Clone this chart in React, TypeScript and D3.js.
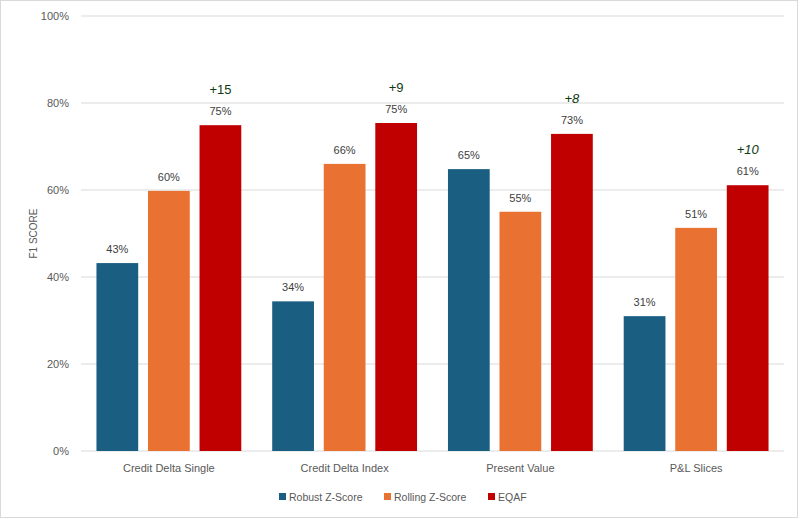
import React, { useRef, useEffect } from 'react';
import * as d3 from 'd3';

const categories = ['Credit Delta Single', 'Credit Delta Index', 'Present Value', 'P&L Slices'];
const seriesNames = ['Robust Z-Score', 'Rolling Z-Score', 'EQAF'];
const robust = [43.2, 34.4, 64.8, 31.0];
const rolling = [59.8, 66.0, 55.0, 51.3];
const eqaf = [74.9, 75.4, 72.9, 61.1];
const deltas = ['+15', '+9', '+8', '+10'];
const deltaItalic = [false, false, true, true];
const yTicks = [0, 20, 40, 60, 80, 100];

const colors = ['#1a5e82', '#e97132', '#c00000'];
const FONT = '"Liberation Sans", Arial, sans-serif';

const App: React.FC = () => {
    const ref = useRef<SVGSVGElement>(null);

    useEffect(() => {
        if (!ref.current) return;
        const svg = d3.select(ref.current);
        svg.selectAll('*').remove();

        const width = 800;
        const height = 519;
        const margin = { top: 16, right: 16, bottom: 68, left: 81 };

        svg.append('rect')
            .attr('x', 0.5).attr('y', 0.5)
            .attr('width', width - 3).attr('height', height - 2)
            .attr('fill', '#fff')
            .attr('stroke', '#d9d9d9');

        const x = d3.scaleBand<string>()
            .domain(categories)
            .range([margin.left, width - margin.right])
            .paddingInner(0)
            .paddingOuter(0);

        // grouped bars inside each category
        const xs = d3.scaleBand<string>()
            .domain(seriesNames)
            .range([0, x.bandwidth()])
            .paddingInner(0.19)
            .paddingOuter(0.3);

        const y = d3.scaleLinear()
            .domain([0, 100])
            .range([height - margin.bottom, margin.top]);

        // gridlines
        svg.append('g')
            .selectAll('line')
            .data(yTicks)
            .enter()
            .append('line')
            .attr('x1', margin.left)
            .attr('x2', width - margin.right)
            .attr('y1', d => y(d))
            .attr('y2', d => y(d))
            .attr('stroke', '#d9d9d9')
            .attr('stroke-width', 1);

        // y tick labels
        svg.append('g')
            .selectAll('text')
            .data(yTicks)
            .enter()
            .append('text')
            .attr('x', 69)
            .attr('y', d => y(d))
            .attr('dy', '0.35em')
            .attr('text-anchor', 'end')
            .attr('font-family', FONT)
            .attr('font-size', 11)
            .attr('fill', '#595959')
            .text(d => `${d}%`);

        // y axis title
        svg.append('text')
            .attr('transform', `translate(37,${(y(0) + y(100)) / 2}) rotate(-90)`)
            .attr('text-anchor', 'middle')
            .attr('font-family', FONT)
            .attr('font-size', 10)
            .attr('fill', '#595959')
            .text('F1 SCORE');

        const series = [robust, rolling, eqaf];
        const bars = categories.flatMap((c, i) =>
            seriesNames.map((s, j) => ({ cat: c, ser: s, j, value: series[j][i] }))
        );

        svg.append('g')
            .selectAll('rect')
            .data(bars)
            .enter()
            .append('rect')
            .attr('x', d => (x(d.cat) as number) + (xs(d.ser) as number))
            .attr('y', d => y(d.value))
            .attr('width', xs.bandwidth())
            .attr('height', d => y(0) - y(d.value))
            .attr('fill', d => colors[d.j]);

        // value labels
        svg.append('g')
            .selectAll('text')
            .data(bars)
            .enter()
            .append('text')
            .attr('x', d => (x(d.cat) as number) + (xs(d.ser) as number) + xs.bandwidth() / 2)
            .attr('y', d => y(d.value) - 10)
            .attr('text-anchor', 'middle')
            .attr('font-family', FONT)
            .attr('font-size', 11)
            .attr('fill', '#404040')
            .text(d => `${Math.round(d.value)}%`);

        // delta annotations above EQAF bars
        svg.append('g')
            .selectAll('text')
            .data(categories)
            .enter()
            .append('text')
            .attr('x', c => (x(c) as number) + (xs('EQAF') as number) + xs.bandwidth() / 2)
            .attr('y', (c, i) => y(eqaf[i]) - 31)
            .attr('text-anchor', 'middle')
            .attr('font-family', FONT)
            .attr('font-size', 13)
            .attr('font-style', (c, i) => (deltaItalic[i] ? 'italic' : 'normal'))
            .attr('fill', '#0e3b12')
            .text((c, i) => deltas[i]);

        // category labels
        svg.append('g')
            .selectAll('text')
            .data(categories)
            .enter()
            .append('text')
            .attr('x', c => (x(c) as number) + x.bandwidth() / 2)
            .attr('y', y(0) + 21)
            .attr('text-anchor', 'middle')
            .attr('font-family', FONT)
            .attr('font-size', 11)
            .attr('fill', '#595959')
            .text(c => c);

        // legend
        const legendX = [279, 384, 488];
        const lg = svg.append('g');
        seriesNames.forEach((s, j) => {
            lg.append('rect')
                .attr('x', legendX[j])
                .attr('y', 493)
                .attr('width', 7)
                .attr('height', 7)
                .attr('fill', colors[j]);
            lg.append('text')
                .attr('x', legendX[j] + 10)
                .attr('y', 497)
                .attr('dy', '0.35em')
                .attr('font-family', FONT)
                .attr('font-size', 10.5)
                .attr('fill', '#595959')
                .text(s);
        });
    }, []);

    return (
        <svg
            ref={ref}
            width={800}
            height={519}
            style={{ position: 'absolute', left: 0, top: 0, display: 'block' }}
        />
    );
};

export default App;
